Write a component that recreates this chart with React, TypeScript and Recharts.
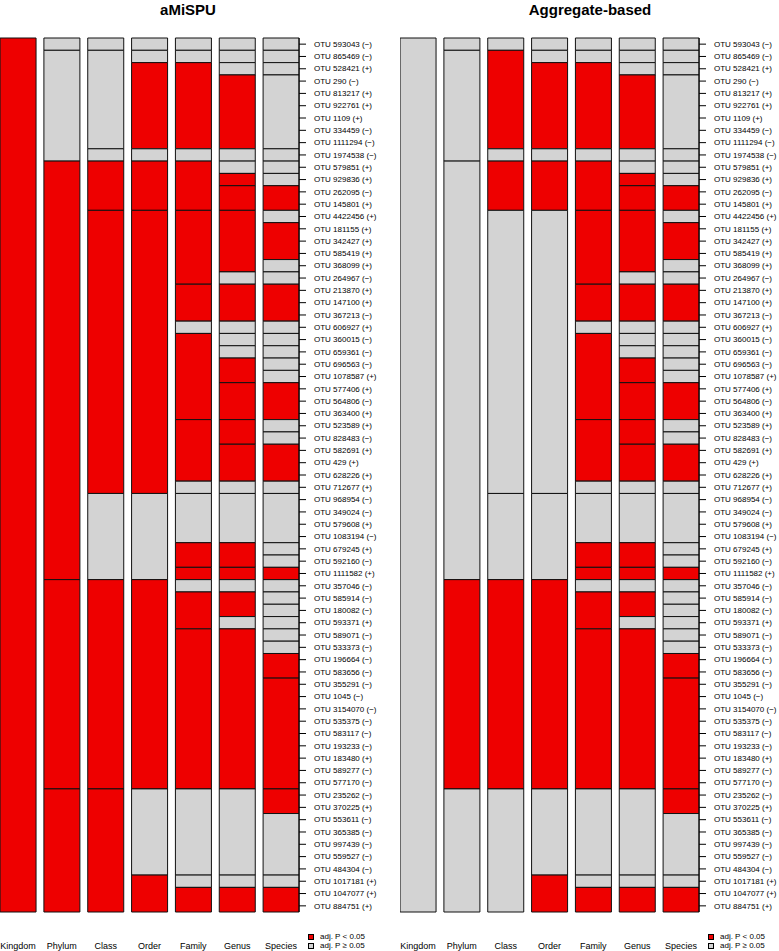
import { BarChart, Bar, XAxis, YAxis, Cell } from "recharts";

const FONT = '"Liberation Sans", Arial, Helvetica, sans-serif';
const RED = "#EE0000";
const GRAY = "#D3D3D3";

const RANKS = ["Kingdom", "Phylum", "Class", "Order", "Family", "Genus", "Species"];

const OTUS = [
  "OTU 593043 (−)", "OTU 865469 (−)", "OTU 528421 (+)", "OTU 290 (−)", "OTU 813217 (+)",
  "OTU 922761 (+)", "OTU 1109 (+)", "OTU 334459 (−)", "OTU 1111294 (−)", "OTU 1974538 (−)",
  "OTU 579851 (+)", "OTU 929836 (+)", "OTU 262095 (−)", "OTU 145801 (+)", "OTU 4422456 (+)",
  "OTU 181155 (+)", "OTU 342427 (+)", "OTU 585419 (+)", "OTU 368099 (+)", "OTU 264967 (−)",
  "OTU 213870 (+)", "OTU 147100 (+)", "OTU 367213 (−)", "OTU 606927 (+)", "OTU 360015 (−)",
  "OTU 659361 (−)", "OTU 696563 (−)", "OTU 1078587 (+)", "OTU 577406 (+)", "OTU 564806 (−)",
  "OTU 363400 (+)", "OTU 523589 (+)", "OTU 828483 (−)", "OTU 582691 (+)", "OTU 429 (+)",
  "OTU 628226 (+)", "OTU 712677 (+)", "OTU 968954 (−)", "OTU 349024 (−)", "OTU 579608 (+)",
  "OTU 1083194 (−)", "OTU 679245 (+)", "OTU 592160 (−)", "OTU 1111582 (+)", "OTU 357046 (−)",
  "OTU 585914 (−)", "OTU 180082 (−)", "OTU 593371 (+)", "OTU 589071 (−)", "OTU 533373 (−)",
  "OTU 196664 (−)", "OTU 583656 (−)", "OTU 355291 (−)", "OTU 1045 (−)", "OTU 3154070 (−)",
  "OTU 535375 (−)", "OTU 583117 (−)", "OTU 193233 (−)", "OTU 183480 (+)", "OTU 589277 (−)",
  "OTU 577170 (−)", "OTU 235262 (−)", "OTU 370225 (+)", "OTU 553611 (−)", "OTU 365385 (−)",
  "OTU 997439 (−)", "OTU 559527 (−)", "OTU 484304 (−)", "OTU 1017181 (+)", "OTU 1047077 (+)",
  "OTU 884751 (+)",
];

// number of OTUs in each taxon, top to bottom
const kingdomSizes = [71];
const phylumSizes = [1, 9, 34, 17, 10];
const classSizes = [1, 8, 1, 4, 23, 7, 17, 10];
const orderSizes = [1, 1, 7, 1, 4, 23, 7, 17, 7, 3];
const familySizes = [1, 1, 7, 1, 4, 6, 3, 1, 7, 5, 1, 4, 2, 1, 1, 3, 13, 7, 1, 2];
const genusSizes = [1, 1, 1, 6, 1, 1, 1, 2, 5, 1, 3, 1, 1, 1, 2, 3, 2, 3, 1, 4, 2, 1, 1, 2, 1, 13, 7, 1, 2];
const speciesSizes = [1, 1, 1, 6, 1, 1, 1, 2, 1, 3, 1, 1, 3, 1, 1, 1, 1, 1, 3, 1, 1, 3, 1, 4, 1, 1, 1, 1, 1, 1, 1, 1, 1, 2, 9, 2, 5, 1, 2];

// 1 = adj. P < 0.05
const amispuKingdom = [1];
const amispuPhylum = [0, 0, 1, 1, 1];
const amispuClass = [0, 0, 0, 1, 1, 0, 1, 1];
const amispuOrder = [0, 0, 1, 0, 1, 1, 0, 1, 0, 1];

const aggKingdom = [0];
const aggPhylum = [0, 0, 0, 1, 0];
const aggClass = [0, 1, 0, 1, 0, 0, 1, 0];
const aggOrder = [0, 0, 1, 0, 1, 0, 0, 1, 0, 1];

// same for both methods
const familySig = [0, 0, 1, 0, 1, 1, 1, 0, 1, 1, 0, 0, 1, 1, 0, 1, 1, 0, 0, 1];
const genusSig = [0, 0, 0, 1, 0, 0, 1, 1, 1, 0, 1, 0, 0, 0, 1, 1, 1, 1, 0, 0, 1, 1, 0, 1, 0, 1, 0, 0, 1];
const speciesSig = [0, 0, 0, 0, 0, 0, 0, 1, 0, 1, 0, 0, 1, 0, 0, 0, 0, 0, 1, 0, 0, 1, 0, 0, 0, 0, 1, 0, 0, 0, 0, 0, 0, 1, 1, 1, 0, 0, 1];

const SIZES = [kingdomSizes, phylumSizes, classSizes, orderSizes, familySizes, genusSizes, speciesSizes];
const MAX_BLOCKS = Math.max(...SIZES.map((s) => s.length));
const ROW_TICKS = OTUS.map((_, i) => i + 0.5);
const RANK_TICKS = RANKS.map((_, i) => i);

const rows = RANKS.map((rank, i) => {
  const row: Record<string, number | string> = { rank, pos: i };
  SIZES[i].forEach((s, j) => {
    row[`b${j}`] = s;
  });
  return row;
});

// plain svg text so long labels never wrap
const OtuTick = (props: any) => {
  const { x, y, payload } = props;
  return (
    <text x={x} y={y} dy="0.34em" textAnchor="start" fontSize={8} fontFamily={FONT} fill="#000">
      {OTUS[Math.floor(payload.value)]}
    </text>
  );
};

const Panel = ({ sig, width, axisWidth }: { sig: number[][]; width: number; axisWidth: number }) => (
  <BarChart width={width} height={951} data={rows} margin={{ top: 38, right: 0, bottom: 0, left: 0 }}>
    <XAxis
      type="number"
      dataKey="pos"
      domain={[-0.41, 6.41]}
      ticks={RANK_TICKS}
      interval={0}
      tickFormatter={(v: number) => RANKS[v]}
      axisLine={false}
      tickLine={false}
      tickSize={0}
      tickMargin={31}
      height={39}
      tick={{ fontSize: 9, fill: "#000", fontFamily: FONT }}
    />
    <YAxis
      type="number"
      domain={[0, OTUS.length]}
      reversed
      orientation="right"
      ticks={ROW_TICKS}
      interval={0}
      width={axisWidth}
      tickSize={7}
      tickMargin={8}
      axisLine={{ stroke: "#000" }}
      tickLine={{ stroke: "#000" }}
      tick={OtuTick}
    />
    {Array.from({ length: MAX_BLOCKS }, (_, j) => (
      <Bar
        key={j}
        dataKey={`b${j}`}
        stackId="taxa"
        barSize={36}
        stroke="#111"
        strokeWidth={1}
        isAnimationActive={false}
      >
        {rows.map((_, i) => (
          <Cell key={i} fill={sig[i][j] ? RED : GRAY} />
        ))}
      </Bar>
    ))}
  </BarChart>
);

const LegendKey = ({ left }: { left: number }) => (
  <div style={{ position: "absolute", left, top: 932, fontFamily: FONT, fontSize: 8, lineHeight: "9.4px" }}>
    {[
      { color: RED, label: "adj. P < 0.05" },
      { color: GRAY, label: "adj. P ≥ 0.05" },
    ].map((d) => (
      <div key={d.label} style={{ display: "flex", alignItems: "center", height: 9.4 }}>
        <div style={{ width: 6, height: 6, boxSizing: "border-box", border: "1px solid #000", background: d.color }} />
        <span style={{ marginLeft: 6 }}>{d.label}</span>
      </div>
    ))}
  </div>
);

const Title = ({ center, text }: { center: number; text: string }) => (
  <div
    style={{
      position: "absolute",
      left: center - 150,
      top: 0,
      width: 300,
      textAlign: "center",
      fontFamily: FONT,
      fontWeight: "bold",
      fontSize: 15,
      lineHeight: "20px",
    }}
  >
    {text}
  </div>
);

export default function App() {
  const amispu = [amispuKingdom, amispuPhylum, amispuClass, amispuOrder, familySig, genusSig, speciesSig];
  const aggregate = [aggKingdom, aggPhylum, aggClass, aggOrder, familySig, genusSig, speciesSig];
  return (
    <div style={{ position: "absolute", left: 0, top: 0, width: 779, height: 951, background: "#fff", overflow: "hidden" }}>
      <Title center={188} text="aMiSPU" />
      <Title center={590} text="Aggregate-based" />
      <div style={{ position: "absolute", left: 0, top: 0 }}>
        <Panel sig={amispu} width={390} axisWidth={91} />
      </div>
      <div style={{ position: "absolute", left: 400, top: 0 }}>
        <Panel sig={aggregate} width={379} axisWidth={80} />
      </div>
      <LegendKey left={308} />
      <LegendKey left={708} />
    </div>
  );
}
